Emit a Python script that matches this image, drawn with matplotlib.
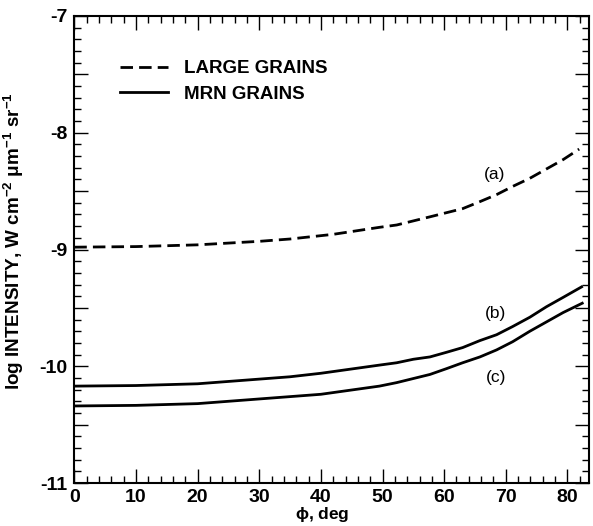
import matplotlib
matplotlib.use("Agg")
import matplotlib.pyplot as plt
from matplotlib.ticker import MultipleLocator, FuncFormatter
from matplotlib.lines import Line2D

plt.rcParams['font.family'] = ['Liberation Sans', 'DejaVu Sans']
plt.rcParams['mathtext.fontset'] = 'custom'
plt.rcParams['mathtext.rm'] = 'Liberation Sans:bold'
plt.rcParams['mathtext.bf'] = 'Liberation Sans:bold'
plt.rcParams['mathtext.it'] = 'Liberation Sans:italic:bold'
plt.rcParams['mathtext.default'] = 'rm'

# Data
phi_a = [0, 10, 20, 30, 35, 42, 49.5, 52.3, 57.7, 63, 65.8, 68.5, 71.1, 73.9, 76.6, 79.3, 81.9]
logI_a = [-8.98, -8.975, -8.96, -8.93, -8.91, -8.87, -8.81, -8.79, -8.72, -8.65, -8.59,
          -8.53, -8.46, -8.39, -8.31, -8.23, -8.14]

phi_b = [0, 10, 20, 30, 35, 40, 49.5, 52.3, 55, 57.7, 60.4, 63, 65.8, 68.5, 71.1, 73.9,
         76.6, 79.3, 82.3]
logI_b = [-10.17, -10.165, -10.15, -10.11, -10.09, -10.06, -9.99, -9.97, -9.94, -9.92,
          -9.88, -9.84, -9.78, -9.73, -9.66, -9.58, -9.49, -9.41, -9.32]

phi_c = [0, 10, 20, 30, 35, 40, 49.5, 52.3, 57.7, 60.4, 63, 65.8, 68.5, 71.1, 73.9, 76.6,
         79.3, 82.4]
logI_c = [-10.34, -10.335, -10.32, -10.28, -10.26, -10.24, -10.17, -10.14, -10.07, -10.02,
          -9.97, -9.92, -9.86, -9.79, -9.70, -9.62, -9.54, -9.46]

curve_labels = ["(a)", "(b)", "(c)"]
label_pos = [(68.2, -8.36), (68.4, -9.55), (68.4, -10.10)]
legend_labels = ["LARGE GRAINS", "MRN GRAINS"]
x_ticks = [0, 10, 20, 30, 40, 50, 60, 70, 80]

fig = plt.figure(figsize=(5.93, 5.26), dpi=100)
ax = fig.add_axes([0.1253, 0.0817, 0.8680, 0.8879])

lw = 2.0
dash = (4.5, 2.2)
ax.plot(phi_a, logI_a, color='black', lw=lw, dashes=dash)
ax.plot(phi_b, logI_b, color='black', lw=lw)
ax.plot(phi_c, logI_c, color='black', lw=lw)

for txt, (x, y) in zip(curve_labels, label_pos):
    ax.text(x, y, txt, fontsize=12.5, ha='center', va='center')

ax.set_xlim(0, 83.5)
ax.set_ylim(-11, -7)
ax.set_xticks(x_ticks)
ax.xaxis.set_minor_locator(MultipleLocator(2))
ax.yaxis.set_major_locator(MultipleLocator(0.5))
ax.yaxis.set_minor_locator(MultipleLocator(0.1))


def yfmt(v, pos):
    if abs(v - round(v)) < 1e-6:
        return "%d" % round(v)
    return ""


ax.yaxis.set_major_formatter(FuncFormatter(yfmt))

ax.tick_params(which='both', direction='in', top=True, right=True, width=1.0)
ax.tick_params(which='major', length=10)
ax.tick_params(which='minor', length=5)
ax.tick_params(axis='y', which='major', pad=5)
ax.tick_params(axis='x', which='major', pad=4)
for lab in ax.get_xticklabels() + ax.get_yticklabels():
    lab.set_fontsize(14)
    lab.set_fontweight('bold')
for s in ax.spines.values():
    s.set_linewidth(1.5)

ax.set_xlabel(r"$\phi$, deg", fontsize=12.5, fontweight='bold')
ax.xaxis.set_label_coords(0.481, -0.047)
ax.set_ylabel(r"log INTENSITY, W cm$^{-2}$ $\mu$m$^{-1}$ sr$^{-1}$", fontsize=13.6,
              fontweight='bold')
ax.yaxis.set_label_coords(-0.094, 0.518)

handles = [Line2D([], [], color='black', lw=lw, dashes=dash),
           Line2D([], [], color='black', lw=lw)]
ax.legend(handles, legend_labels, loc='upper left', bbox_to_anchor=(0.0888, 0.905),
          frameon=False, borderpad=0, borderaxespad=0, handlelength=2.55,
          handletextpad=0.85, labelspacing=0.45,
          prop={'size': 13.5, 'weight': 'bold'})

fig.savefig("out.png", dpi=100)
